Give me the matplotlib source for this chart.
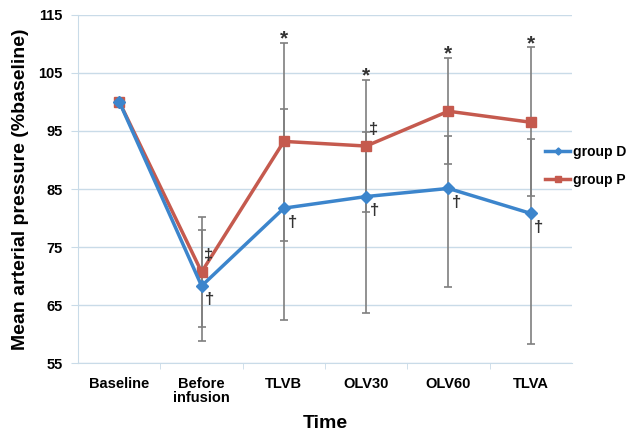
import matplotlib
matplotlib.use("Agg")
import matplotlib.pyplot as plt
import numpy as np

plt.rcParams["font.family"] = ["Liberation Sans", "DejaVu Sans"]

categories = ["Baseline", "Before\ninfusion", "TLVB", "OLV30", "OLV60", "TLVA"]
group_d = [100, 68.3, 81.7, 83.7, 85.1, 80.8]
group_p = [100, 70.7, 93.2, 92.4, 98.4, 96.5]
# error bars (lower, upper)
d_err_low = [0, 9.5, 19.3, 20.0, 16.9, 22.5]
d_err_up = [0, 9.6, 17.0, 11.2, 9.0, 12.9]
p_err_low = [0, 9.5, 17.1, 11.4, 9.1, 12.7]
p_err_up = [0, 9.5, 16.9, 11.4, 9.2, 12.9]
star_idx = [2, 3, 4, 5]        # * above group P
ddagger_idx = [1, 3]           # ‡ next to group P
dagger_idx = [1, 2, 3, 4, 5]   # † next to group D

blue = "#3C85CC"
red = "#C55A4E"
grey = "#7f7f7f"
grid_c = "#c9dbe8"

fig = plt.figure(figsize=(6.36, 4.37), dpi=100)
ax = fig.add_axes([0.123, 0.169, 0.776, 0.797])

x = np.arange(len(categories))
ax.errorbar(x[1:], group_d[1:], yerr=[d_err_low[1:], d_err_up[1:]], fmt="none",
            ecolor=grey, elinewidth=1.2, capsize=3, capthick=1.2, zorder=2)
ax.errorbar(x[1:], group_p[1:], yerr=[p_err_low[1:], p_err_up[1:]], fmt="none",
            ecolor=grey, elinewidth=1.2, capsize=3, capthick=1.2, zorder=2)

ax.plot(x, group_p, color=red, lw=2.5, marker="s", ms=7.5, label="group P", zorder=3)
ax.plot(x, group_d, color=blue, lw=2.5, marker="D", ms=6, label="group D", zorder=4)

for i in star_idx:
    ax.annotate("*", (x[i], group_p[i] + p_err_up[i]), xytext=(0, -4),
                textcoords="offset points", ha="center", va="bottom",
                fontsize=15, fontweight="bold", color="#333333")
for i in ddagger_idx:
    ax.annotate("‡", (x[i], group_p[i]), xytext=(5, 12),
                textcoords="offset points", ha="center", va="center",
                fontsize=12, fontweight="bold", color="#333333")
for i in dagger_idx:
    ax.annotate("†", (x[i], group_d[i]), xytext=(6, -10),
                textcoords="offset points", ha="center", va="center",
                fontsize=12, fontweight="bold", color="#333333")

ax.set_xlim(-0.5, len(categories) - 0.5)
ax.set_ylim(55, 115)
ax.set_yticks(np.arange(55, 116, 10))
ax.set_xticks(x)
ax.set_xticklabels(categories, fontweight="bold", fontsize=10.5, linespacing=1.0)
ax.set_xticks(np.arange(0.5, len(categories) - 1), minor=True)
ax.tick_params(axis="x", which="major", length=0, pad=10)
ax.tick_params(axis="x", which="minor", length=4, color=grid_c, direction="out")
ax.tick_params(axis="y", length=5, color=grid_c, pad=6, labelsize=10.5)
for lab in ax.get_yticklabels():
    lab.set_fontweight("bold")

ax.grid(axis="y", color=grid_c, lw=1)
ax.set_axisbelow(True)
for s in ["top", "right"]:
    ax.spines[s].set_visible(False)
for s in ["left", "bottom"]:
    ax.spines[s].set_color(grid_c)

ax.set_ylabel("Mean arterial pressure (%baseline)", fontsize=14, fontweight="bold", labelpad=7)
ax.set_xlabel("Time", fontsize=14, fontweight="bold", labelpad=7)

handles, labels = ax.get_legend_handles_labels()
fig.legend(handles[::-1], labels[::-1], loc="center left", bbox_to_anchor=(0.838, 0.62),
           frameon=False, prop={"weight": "bold", "size": 10},
           handlelength=1.8, labelspacing=1.0, handletextpad=0.15, markerscale=0.6)

fig.savefig("out.png", dpi=100)
